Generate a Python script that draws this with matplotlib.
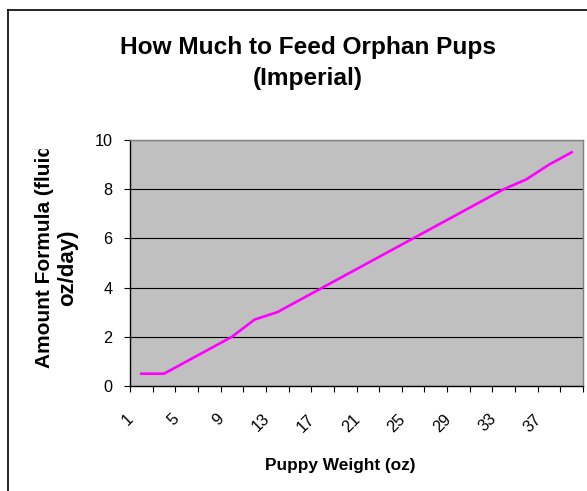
import matplotlib
matplotlib.use("Agg")
import matplotlib.pyplot as plt
from matplotlib.lines import Line2D
from matplotlib.transforms import Bbox, TransformedBbox, ScaledTranslation

# ---- data ----
weights = [1, 3, 5, 7, 9, 11, 13, 15, 17, 19, 21, 23, 25, 27, 29, 31, 33, 35, 37, 39]
formula = [0.5, 0.5, 1.0, 1.5, 2.0, 2.7, 3.0, 3.5, 4.0, 4.5, 5.0, 5.5, 6.0, 6.5, 7.0, 7.5, 8.0, 8.4, 9.0, 9.5]
y_ticks = [0, 2, 4, 6, 8, 10]
title_text = "How Much to Feed Orphan Pups\n(Imperial)"
x_label = "Puppy Weight (oz)"
y_label_1 = "Amount Formula (fluid"
y_label_2 = "oz/day)"

W, H = 587, 491
DPI = 100
plt.rcParams['font.family'] = ['Liberation Sans', 'DejaVu Sans']

fig = plt.figure(figsize=(W / DPI, H / DPI), dpi=DPI)
fig.patch.set_facecolor('white')

def fx(px):
    return px / W

def fy(py):
    return 1 - py / H

left, right, top, bottom = 130, 583, 140, 386
ax = fig.add_axes([fx(left), fy(bottom), fx(right) - fx(left), fy(top) - fy(bottom)])
ax.set_facecolor('#C0C0C0')

n = len(weights)
pos = [i + 0.5 for i in range(n)]
ax.plot(pos, formula, color='#FF00FF', lw=1.9, solid_joinstyle='round', zorder=3)

ax.set_xlim(0, n)
ax.set_ylim(0, 10)

# y axis
ax.set_yticks(y_ticks)
ax.set_yticklabels([str(v) for v in y_ticks], fontsize=11.7)
ax.tick_params(axis='y', direction='out', length=4.5, width=0.8, color='black', pad=8)
ax.yaxis.grid(True, color='black', lw=0.8)
ax.set_axisbelow(True)

# x axis: minor ticks at category boundaries, labels at every other category
ax.set_xticks(range(0, n + 1), minor=True)
ax.set_xticks(pos[::2])
ax.set_xticklabels([str(w) for w in weights[::2]], fontsize=11.7)
ax.tick_params(axis='x', which='minor', direction='out', length=4.5, width=0.8, color='black')
ax.tick_params(axis='x', which='major', length=0, pad=22)
for lab in ax.get_xticklabels():
    lab.set_rotation(45)
    lab.set_rotation_mode('anchor')
    lab.set_ha('right')
    lab.set_va('center')
    lab.set_transform(lab.get_transform() + ScaledTranslation(-10 / DPI, 0, fig.dpi_scale_trans))

for s in ['left', 'bottom']:
    ax.spines[s].set_color('black')
    ax.spines[s].set_linewidth(1.0)
for s in ['top', 'right']:
    ax.spines[s].set_color('#808080')
    ax.spines[s].set_linewidth(1.0)

# titles / labels
fig.text(fx(308), fy(63), title_text, ha='center', va='center', fontsize=17.6,
         fontweight='bold', linespacing=1.42)
fig.text(fx(340), fy(470), x_label, ha='center', va='baseline', fontsize=12.4, fontweight='bold')

t1 = fig.text(fx(50), fy(368), y_label_1, ha='left', va='baseline', rotation=90,
              rotation_mode='anchor', fontsize=15, fontweight='bold')
t1.set_clip_box(TransformedBbox(Bbox([[0, 0], [1, fy(149)]]), fig.transFigure))
t1.set_clip_on(True)
fig.text(fx(73), fy(267.5), y_label_2, ha='center', va='baseline', rotation=90,
         rotation_mode='anchor', fontsize=16, fontweight='bold')

# chart-area frame (left and top edges visible)
fig.add_artist(Line2D([fx(8), fx(8)], [0, fy(10)], transform=fig.transFigure, color='black', lw=1.2))
fig.add_artist(Line2D([fx(8), 1], [fy(10), fy(10)], transform=fig.transFigure, color='black', lw=1.2))

fig.savefig('out.png', dpi=DPI)
